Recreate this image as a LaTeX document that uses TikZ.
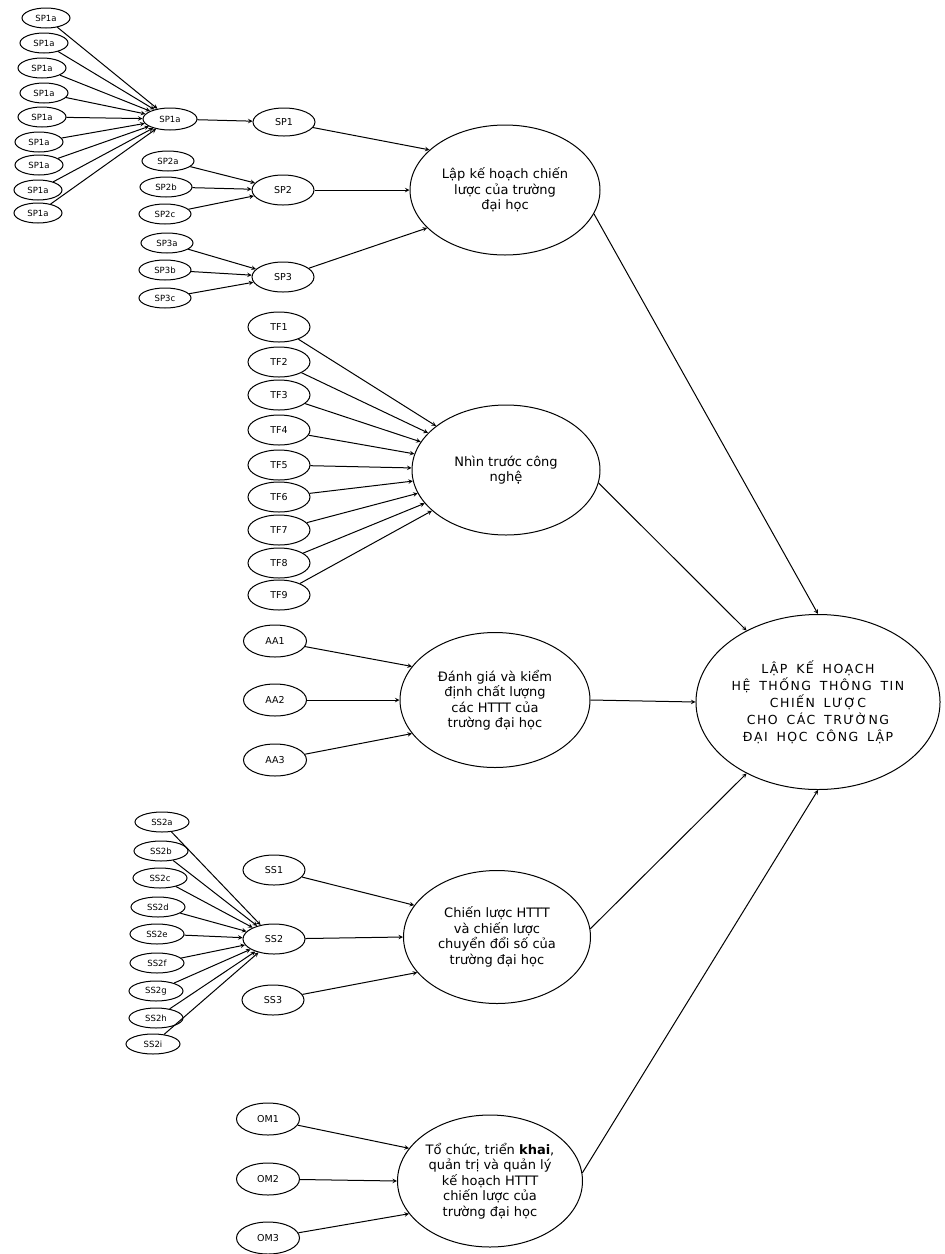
\documentclass[tikz,border=0pt]{standalone}
\usepackage{fontspec}
\setmainfont{DejaVu Sans}
\newfontfamily\goalfont[LetterSpace=12, WordSpace=1.6]{DejaVu Sans}
\usetikzlibrary{arrows,shapes.geometric}

\tikzset{
  leaf/.style={draw, ellipse, line width=1pt, inner sep=0pt, minimum width=50pt, minimum height=20pt, font=\fontsize{8.5}{9}\selectfont},
  item/.style={leaf, minimum width=62pt, minimum height=30pt, font=\fontsize{9.5}{10}\selectfont},
  factor/.style={draw, ellipse, line width=1pt, inner sep=0pt, minimum width=190pt, minimum height=130pt, align=center, font=\fontsize{13}{15.5}\selectfont},
  goal/.style={factor, minimum width=243pt, minimum height=175pt, font=\goalfont\fontsize{12.5}{17}\selectfont}
}

\begin{document}
\begin{tikzpicture}[x=1pt, y=-1pt, line width=1pt]
  \useasboundingbox (0,0) rectangle (945,1254);
  % main factors
  \node[factor] (main1) at (505,190) {Lập kế hoạch chiến\\lược của trường\\đại học};
  \node[factor, minimum width=188pt] (main2) at (506,470) {Nhìn trước công\\nghệ};
  \node[factor, minimum height=135pt] (main3) at (495,700) {Đánh giá và kiểm\\định chất lượng\\các HTTT của\\trường đại học};
  \node[factor, minimum width=187pt, minimum height=133pt] (main4) at (497,937) {Chiến lược HTTT\\và chiến lược\\chuyển đổi số của\\trường đại học};
  \node[factor, minimum width=185pt, minimum height=132pt] (main5) at (490,1181) {Tổ chức, triển \textbf{khai},\\quản trị và quản lý\\kế hoạch HTTT\\chiến lược của\\trường đại học};
  \node[goal] (final) at (818,702) {LẬP KẾ HOẠCH\\HỆ THỐNG THÔNG TIN\\CHIẾN LƯỢC\\CHO CÁC TRƯỜNG\\ĐẠI HỌC CÔNG LẬP};

  % SP group
  \node[leaf, minimum width=54pt, minimum height=22pt] (sp1a) at (170,119) {SP1a};
  \foreach \x/\y [count=\i] in {46/18, 44/43, 42/68, 44/93, 42/117, 39/142, 39/165, 38/190, 38/213}
    \node[leaf, minimum width=48pt] (sp1a-\i) at (\x,\y) {SP1a};
  \node[item, minimum height=28pt] (sp1) at (284,122) {SP1};
  \node[item] (sp2) at (283,190) {SP2};
  \node[item] (sp3) at (283,277) {SP3};
  \node[leaf, minimum width=52pt] (sp2a) at (168,161) {SP2a};
  \node[leaf, minimum width=52pt] (sp2b) at (166,187) {SP2b};
  \node[leaf, minimum width=52pt] (sp2c) at (165,214) {SP2c};
  \node[leaf, minimum width=52pt] (sp3a) at (167,243) {SP3a};
  \node[leaf, minimum width=52pt] (sp3b) at (165,270) {SP3b};
  \node[leaf, minimum width=52pt] (sp3c) at (165,298) {SP3c};

  % TF group
  \foreach \y [count=\i] in {327, 362, 395, 430, 465, 497, 530, 563, 595}
    \node[item] (tf\i) at (279,\y) {TF\i};

  % AA group
  \foreach \y [count=\i] in {641, 700, 760}
    \node[item, minimum width=63pt, minimum height=32pt] (aa\i) at (275,\y) {AA\i};

  % SS group
  \node[item] (ss1) at (274,870) {SS1};
  \node[item] (ss2) at (274,939) {SS2};
  \node[item] (ss3) at (273,1000) {SS3};
  \foreach \x/\y/\l in {162/822/a, 161/851/b, 160/878/c, 158/907/d, 157/934/e, 157/963/f, 156/991/g, 156/1018/h, 153/1044/i}
    \node[leaf, minimum width=54pt] (ss2\l) at (\x,\y) {SS2\l};

  % OM group
  \foreach \y [count=\i] in {1119, 1179, 1238}
    \node[item, minimum width=63pt, minimum height=32pt] (om\i) at (268,\y) {OM\i};

  \path[-stealth]
  (sp1a) edge (sp1)
  (sp2a) edge (sp2) (sp2b) edge (sp2) (sp2c) edge (sp2)
  (sp3a) edge (sp3) (sp3b) edge (sp3) (sp3c) edge (sp3)
  (sp1) edge (main1.152)
  (sp2) edge (main1.west)
  (sp3) edge (main1.206)
  (aa1) edge (main3.158)
  (aa2) edge (main3.west)
  (aa3) edge (main3.202)
  (ss1) edge (main4.159)
  (ss2) edge (main4.west)
  (ss3) edge (main4.204)
  (om1) edge (main5.158)
  (om2) edge (main5.west)
  (om3) edge (main5.202)
  (main1.-15) edge (final.north)
  (main2.-8) edge (final.135)
  (main3.east) edge (final.west)
  (main4.5) edge (final.225)
  (main5.5) edge (final.south);
  \foreach \i in {1,...,9} \path[-stealth] (sp1a-\i) edge (sp1a) (tf\i) edge (main2);
  \foreach \l in {a,...,i} \path[-stealth] (ss2\l) edge (ss2);
\end{tikzpicture}
\end{document}
